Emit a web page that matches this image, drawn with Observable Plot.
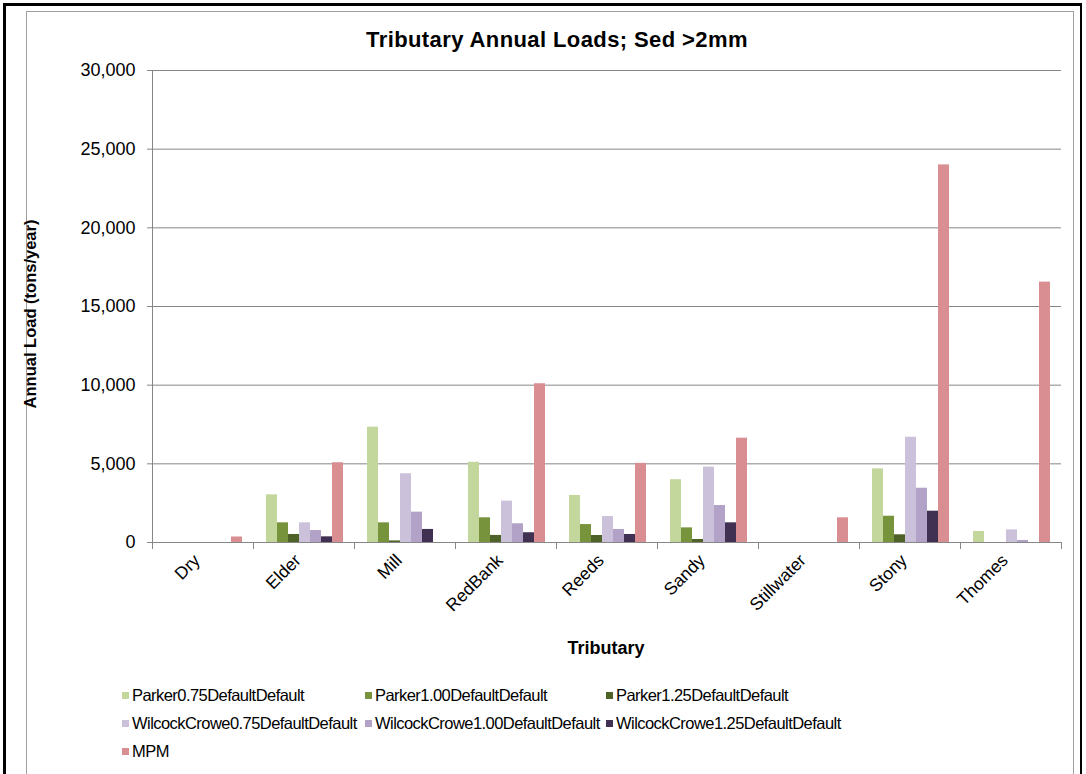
<!DOCTYPE html>
<html>
<head>
<meta charset="utf-8">
<script src="https://cdn.jsdelivr.net/npm/d3@7"></script>
<script src="https://cdn.jsdelivr.net/npm/@observablehq/plot@0.6"></script>
<style>
  html, body { margin: 0; padding: 0; background: #fff; }
  #wrap { position: relative; width: 1086px; height: 774px; overflow: hidden; background: #fff;
          font-family: "Liberation Sans", Arial, sans-serif; color: #000; }
  #outer { position: absolute; left: 3px; top: 3px; width: 1074px; height: 780px;
           border-left: 3px solid #000; border-top: 3px solid #000; border-right: 2px solid #000; }
  #inner { position: absolute; left: 26px; top: 11px; width: 1046px; height: 780px; border: 1px solid #a0a0a0; }
  #chart { position: absolute; left: 0; top: 0; }
  #title { position: absolute; top: 27px; left: 26px; width: 1062px; text-align: center;
           font-weight: bold; font-size: 22px; letter-spacing: 0.4px; }
  #ylabel { position: absolute; left: 30px; top: 314px; transform: translate(-50%, -50%) rotate(-90deg);
            font-weight: bold; font-size: 16.5px; white-space: nowrap; }
  #xlabel { position: absolute; top: 638px; left: 150px; width: 912px; text-align: center;
            font-weight: bold; font-size: 18px; }
  .lg { position: absolute; font-size: 16.5px; letter-spacing: -0.55px; white-space: nowrap; line-height: 20px; }
  .sw { position: absolute; width: 7px; height: 7px; }
</style>
</head>
<body>
<div id="wrap">
  <div id="outer"></div>
  <div id="inner"></div>
  <div id="title">Tributary Annual Loads; Sed &gt;2mm</div>
  <div id="ylabel">Annual Load (tons/year)</div>
  <div id="chart"></div>
  <div id="xlabel">Tributary</div>
  <div id="legend"></div>
</div>
<script>
// ---- data ----
const categories = ["Dry", "Elder", "Mill", "RedBank", "Reeds", "Sandy", "Stillwater", "Stony", "Thomes"];
const seriesNames = [
  "Parker0.75DefaultDefault", "Parker1.00DefaultDefault", "Parker1.25DefaultDefault",
  "WilcockCrowe0.75DefaultDefault", "WilcockCrowe1.00DefaultDefault", "WilcockCrowe1.25DefaultDefault",
  "MPM"
];
const parker075 = [0, 3030, 7330, 5100, 2990, 3990, 0, 4680, 700];
const parker100 = [0, 1250, 1250, 1570, 1140, 930, 0, 1670, 0];
const parker125 = [0, 510, 100, 450, 445, 190, 0, 490, 0];
const wilcock075 = [0, 1250, 4370, 2630, 1650, 4790, 0, 6690, 800];
const wilcock100 = [0, 760, 1930, 1190, 830, 2350, 0, 3450, 130];
const wilcock125 = [0, 360, 830, 620, 510, 1250, 0, 1990, 0];
const mpm = [350, 5070, 0, 10090, 5030, 6630, 1570, 24000, 16550];
const yTicks = [0, 5000, 10000, 15000, 20000, 25000, 30000];
const colors = ["#c3d69b", "#77933c", "#4f6228", "#ccc1da", "#b3a2c7", "#403152", "#d98e92"];

const seriesValues = [parker075, parker100, parker125, wilcock075, wilcock100, wilcock125, mpm];
const data = [];
categories.forEach((c, i) => {
  seriesNames.forEach((s, j) => {
    data.push({tributary: c, series: s, value: seriesValues[j][i]});
  });
});

const chart = Plot.plot({
  width: 1086,
  height: 680,
  marginLeft: 150,
  marginRight: 24,
  marginTop: 70,
  marginBottom: 138,
  style: {fontFamily: "Liberation Sans, Arial, sans-serif", background: "transparent", color: "#000", overflow: "visible"},
  fx: {domain: categories, paddingInner: 0, paddingOuter: 0, label: null},
  x: {domain: seriesNames, paddingInner: 0, paddingOuter: 0.8, align: 0.55, axis: null},
  y: {domain: [0, 30000], axis: null},
  color: {domain: seriesNames, range: colors},
  marks: [
    Plot.gridY(yTicks, {stroke: "#868686", strokeOpacity: 1, strokeWidth: 1}),
    Plot.barY(data, {fx: "tributary", x: "series", y: "value", fill: "series"}),
    Plot.axisY(yTicks, {tickFormat: d3.format(","), tickSize: 5, tickPadding: 12, fontSize: 18, stroke: "#868686", fill: "#000", label: null}),
    Plot.axisFx({anchor: "bottom", tickRotate: -45, tickSize: 0, tickPadding: 10, fontSize: 17.5, label: null, fill: "#000", dx: -6, dy: 5}),
    Plot.frame({anchor: "left", insetTop: 472, insetBottom: -6, stroke: "#868686"}),
    Plot.frame({anchor: "right", insetTop: 472, insetBottom: -6, stroke: "#868686"}),
    Plot.frame({anchor: "left", stroke: "#868686", fx: [categories[0]]})
  ]
});
document.getElementById("chart").appendChild(chart);

// ---- legend ----
const lg = document.getElementById("legend");
const colX = [122, 365, 606];
const rowY = [695, 723, 751];
seriesNames.forEach((s, i) => {
  const col = i % 3, row = Math.floor(i / 3);
  const sw = document.createElement("div");
  sw.className = "sw";
  sw.style.left = colX[col] + "px";
  sw.style.top = (rowY[row] - 3.5) + "px";
  sw.style.background = colors[i];
  lg.appendChild(sw);
  const t = document.createElement("div");
  t.className = "lg";
  t.style.left = (colX[col] + 10) + "px";
  t.style.top = (rowY[row] - 10) + "px";
  t.textContent = s;
  lg.appendChild(t);
});
</script>
</body>
</html>
